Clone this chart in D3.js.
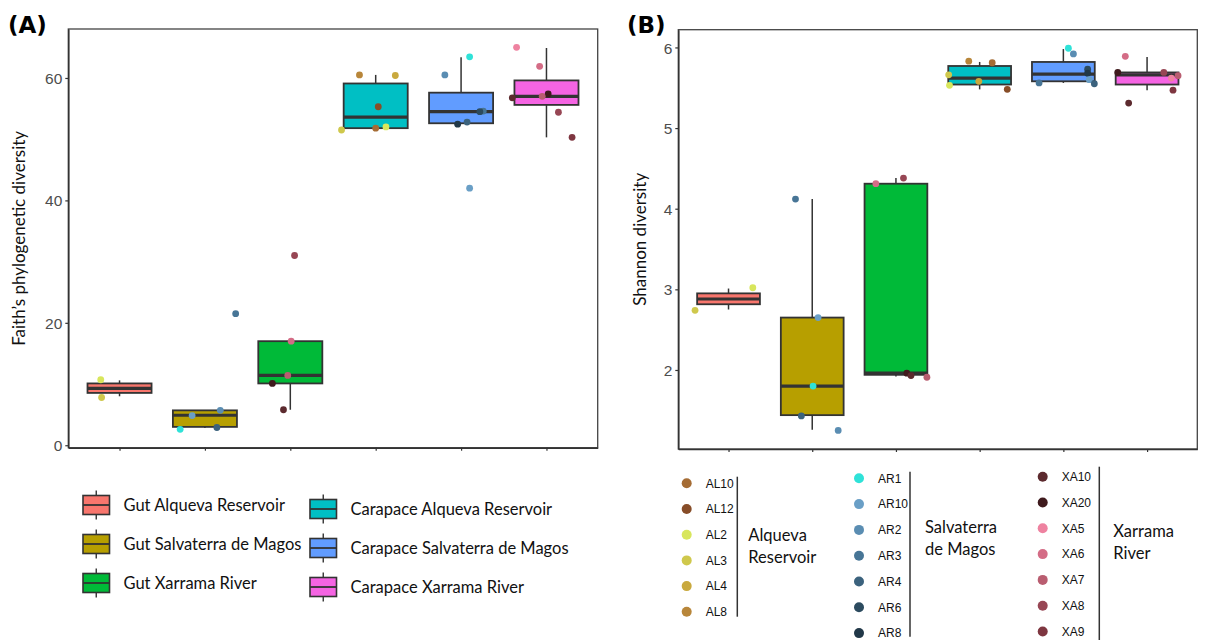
<!DOCTYPE html>
<html>
<head>
<meta charset="utf-8">
<script src="https://cdn.jsdelivr.net/npm/d3@7"></script>
<style>
  body { margin: 0; background: #fff; }
  .tick text { font-family: "Liberation Sans", Arial, sans-serif; font-size: 15.5px; fill: #4d4d4d; }
  .tick line { stroke: #333; stroke-width: 1.2px; }
  .ttl { font-family: Lato, "Open Sans", sans-serif; font-size: 17px; fill: #111; }
  .lab { font-family: "DejaVu Sans", sans-serif; font-weight: bold; font-size: 23px; fill: #000; }
  .leg { font-family: Lato, "Open Sans", sans-serif; font-size: 16.5px; fill: #111; }
  .smp { font-family: "Liberation Sans", Arial, sans-serif; font-size: 12px; fill: #111; }
</style>
</head>
<body>
<svg id="fig" width="1213" height="640"></svg>
<script>
// groups on the x axis, same order in both panels
var groups = ["Gut Alqueva Reservoir", "Gut Salvaterra de Magos", "Gut Xarrama River",
  "Carapace Alqueva Reservoir", "Carapace Salvaterra de Magos", "Carapace Xarrama River"];
var groupFill = ["#F8766D", "#B79F00", "#00BA38", "#00BFC4", "#619CFF", "#F564E3"];

// box stats: [lower whisker, q1, median, q3, upper whisker]
var faithBox = [
  [8.0, 8.55, 9.3, 10.1, 10.6],
  [2.8, 3.0, 4.9, 5.7, 5.7],
  [5.8, 10.1, 11.4, 17.0, 17.0],
  [51.8, 51.8, 53.6, 59.1, 60.5],
  [52.5, 52.6, 54.5, 57.6, 63.4],
  [50.3, 55.6, 57.0, 59.6, 64.9]
];
var shannonBox = [
  [2.75, 2.815, 2.88, 2.95, 3.01],
  [1.26, 1.44, 1.80, 2.65, 4.12],
  [1.92, 1.94, 1.96, 4.31, 4.38],
  [5.48, 5.54, 5.62, 5.77, 5.82],
  [5.56, 5.58, 5.67, 5.82, 5.98],
  [5.47, 5.54, 5.66, 5.69, 5.88]
];

// samples: [group, sample, value, jitter (fraction of a step)]
var faithPts = [
  [0, "AL2", 10.7, -0.22], [0, "AL3", 7.8, -0.21],
  [1, "AR1", 2.6, -0.29], [1, "AR10", 4.85, -0.15], [1, "AR2", 5.7, 0.18], [1, "AR4", 2.9, 0.14], [1, "AR3", 21.5, 0.36],
  [2, "XA6", 17.0, 0.01], [2, "XA7", 11.4, -0.03], [2, "XA20", 10.1, -0.21], [2, "XA10", 5.8, -0.08], [2, "XA8", 31.0, 0.05],
  [3, "AL8", 60.5, -0.19], [3, "AL4", 60.4, 0.23], [3, "AL12", 55.3, 0.03], [3, "AL10", 51.8, 0.0], [3, "AL2", 52.0, 0.12], [3, "AL3", 51.5, -0.40],
  [4, "AR1", 63.45, 0.10], [4, "AR2", 60.5, -0.19], [4, "AR3", 54.6, 0.26], [4, "AR6", 54.5, 0.22], [4, "AR4", 52.8, 0.07], [4, "AR8", 52.45, -0.04], [4, "AR10", 42.0, 0.10],
  [5, "XA5", 65.0, -0.35], [5, "XA6", 61.9, -0.08], [5, "XA20", 57.4, 0.02], [5, "XA7", 57.0, -0.05], [5, "XA10", 56.75, -0.40], [5, "XA8", 54.4, 0.14], [5, "XA9", 50.3, 0.30]
];
var shannonPts = [
  [0, "AL3", 2.74, -0.40], [0, "AL2", 3.02, 0.29],
  [1, "AR3", 4.12, -0.20], [1, "AR10", 2.65, 0.07], [1, "AR1", 1.80, 0.01], [1, "AR4", 1.43, -0.13], [1, "AR2", 1.25, 0.31],
  [2, "XA6", 4.31, -0.24], [2, "XA8", 4.38, 0.09], [2, "XA20", 1.96, 0.13], [2, "XA10", 1.93, 0.18], [2, "XA7", 1.91, 0.37],
  [3, "AL8", 5.83, -0.13], [3, "AL10", 5.81, 0.15], [3, "AL3", 5.66, -0.37], [3, "AL2", 5.53, -0.36], [3, "AL4", 5.58, -0.01], [3, "AL12", 5.48, 0.33],
  [4, "AR1", 5.99, 0.06], [4, "AR2", 5.92, 0.12], [4, "AR6", 5.73, 0.29], [4, "AR8", 5.68, 0.29], [4, "AR10", 5.60, 0.31], [4, "AR4", 5.55, 0.37], [4, "AR3", 5.56, -0.29],
  [5, "XA6", 5.89, -0.26], [5, "XA20", 5.69, -0.35], [5, "XA8", 5.69, 0.20], [5, "XA5", 5.62, 0.29], [5, "XA7", 5.65, 0.37], [5, "XA9", 5.47, 0.31], [5, "XA10", 5.31, -0.22]
];

var sites = [["Alqueva", "Reservoir"], ["Salvaterra", "de Magos"], ["Xarrama", "River"]];
var siteSamples = [
  ["AL10", "AL12", "AL2", "AL3", "AL4", "AL8"],
  ["AR1", "AR10", "AR2", "AR3", "AR4", "AR6", "AR8"],
  ["XA10", "XA20", "XA5", "XA6", "XA7", "XA8", "XA9"]
];
var siteColors = [
  ["#a56c34", "#874d28", "#d8e65c", "#cfc84c", "#c9a93e", "#b8863a"],
  ["#2fe2d8", "#6a9fc6", "#5a8db2", "#477596", "#3b627d", "#2c4b5f", "#213848"],
  ["#5c2a2e", "#3f1a1d", "#ee82a0", "#d46c86", "#b95d70", "#974654", "#7e3640"]
];

var faithTicks = [0, 20, 40, 60];
var shannonTicks = [2, 3, 4, 5, 6];

var sampleColor = {};
siteSamples.forEach(function(list, s) {
  list.forEach(function(d, i) { sampleColor[d] = siteColors[s][i]; });
});

var svg = d3.select("#fig");

function drawPanel(cfg) {
  var x = d3.scalePoint().domain(d3.range(groups.length))
    .range([cfg.left, cfg.right]).padding(0.6);
  var y = d3.scaleLinear().domain(cfg.domain).range([cfg.bottom, cfg.top]);
  var bw = x.step() * 0.75;
  var g = svg.append("g");

  g.append("rect")
    .attr("x", cfg.left).attr("y", cfg.top)
    .attr("width", cfg.right - cfg.left).attr("height", cfg.bottom - cfg.top)
    .attr("fill", "#fff").attr("stroke", "#444").attr("stroke-width", 1.3);

  var box = g.selectAll("g.box").data(cfg.box).enter().append("g").attr("class", "box");
  box.append("line")
    .attr("x1", function(d, i) { return x(i); }).attr("x2", function(d, i) { return x(i); })
    .attr("y1", function(d) { return y(d[0]); }).attr("y2", function(d) { return y(d[4]); })
    .attr("stroke", "#333").attr("stroke-width", 1.5);
  box.append("rect")
    .attr("x", function(d, i) { return x(i) - bw / 2; })
    .attr("y", function(d) { return y(d[3]); })
    .attr("width", bw)
    .attr("height", function(d) { return y(d[1]) - y(d[3]); })
    .attr("fill", function(d, i) { return groupFill[i]; })
    .attr("stroke", "#333").attr("stroke-width", 1.8);
  box.append("line")
    .attr("x1", function(d, i) { return x(i) - bw / 2; })
    .attr("x2", function(d, i) { return x(i) + bw / 2; })
    .attr("y1", function(d) { return y(d[2]); }).attr("y2", function(d) { return y(d[2]); })
    .attr("stroke", "#333").attr("stroke-width", 3.2);

  g.selectAll("circle.pt").data(cfg.pts).enter().append("circle")
    .attr("class", "pt")
    .attr("cx", function(d) { return x(d[0]) + d[3] * x.step(); })
    .attr("cy", function(d) { return y(d[2]); })
    .attr("r", 3.4)
    .attr("fill", function(d) { return sampleColor[d[1]]; });

  var ya = g.append("g").attr("transform", "translate(" + cfg.left + ",0)")
    .call(d3.axisLeft(y).tickValues(cfg.ticks).tickFormat(d3.format("d"))
      .tickSize(3).tickPadding(3).tickSizeOuter(0));
  ya.select(".domain").attr("stroke", "#333").attr("stroke-width", 1.6);
  ya.selectAll(".tick text").attr("dy", "0.36em");

  var xa = g.append("g").attr("transform", "translate(0," + cfg.bottom + ")")
    .call(d3.axisBottom(x).tickSize(3).tickFormat("").tickSizeOuter(0));
  xa.select(".domain").attr("stroke", "#333").attr("stroke-width", 1.6);

  g.append("text").attr("class", "ttl")
    .attr("transform", "translate(" + cfg.titleX + "," + (cfg.top + cfg.bottom) / 2 + ") rotate(-90)")
    .attr("text-anchor", "middle").attr("dy", "0.35em")
    .text(cfg.title);

  g.append("text").attr("class", "lab")
    .attr("x", cfg.labX).attr("y", 33).text(cfg.label);
}

drawPanel({
  left: 68.3, right: 597.7, top: 29, bottom: 447.7,
  domain: [-0.4, 68], ticks: faithTicks,
  box: faithBox, pts: faithPts,
  title: "Faith\u2019s phylogenetic diversity", titleX: 19,
  label: "(A)", labX: 8
});

drawPanel({
  left: 678.3, right: 1197.3, top: 29.7, bottom: 449,
  domain: [1.02, 6.22], ticks: shannonTicks,
  box: shannonBox, pts: shannonPts,
  title: "Shannon diversity", titleX: 640,
  label: "(B)", labX: 627
});

// group legend (box key glyphs)
var legX = [83, 310], legY = [505, 509], legDy = 39;
var keyW = 26.5, keyH = 19;
var lg = svg.append("g").selectAll("g").data(groups).enter().append("g")
  .attr("transform", function(d, i) {
    var c = Math.floor(i / 3), r = i % 3;
    return "translate(" + legX[c] + "," + (legY[c] + r * legDy) + ")";
  });
lg.append("line")
  .attr("x1", keyW / 2).attr("x2", keyW / 2).attr("y1", -14.5).attr("y2", 14.5)
  .attr("stroke", "#333").attr("stroke-width", 1.4);
lg.append("rect")
  .attr("x", 0).attr("y", -keyH / 2).attr("width", keyW).attr("height", keyH)
  .attr("fill", function(d, i) { return groupFill[i]; })
  .attr("stroke", "#333").attr("stroke-width", 1.6);
lg.append("line")
  .attr("x1", 0).attr("x2", keyW).attr("y1", 0).attr("y2", 0)
  .attr("stroke", "#333").attr("stroke-width", 1.8);
lg.append("text").attr("class", "leg")
  .attr("x", 40.5).attr("y", 5.5).text(function(d) { return d; });

// sample legend (colour dots grouped by site)
var colDot = [686.7, 859, 1042.7];
var colTop = [483.3, 478.3, 476.7];
var colDy = [25.7, 25.8, 25.8];
var barX = [737.3, 910, 1099.3];
var barY = [[476.7, 616.7], [471.7, 636.7], [466.7, 640]];
var siteLabX = [748.3, 925, 1113.3];
var siteLabY = [541, 532.7, 536.7];

siteSamples.forEach(function(list, s) {
  var col = svg.append("g");
  var item = col.selectAll("g").data(list).enter().append("g")
    .attr("transform", function(d, i) { return "translate(0," + (colTop[s] + i * colDy[s]) + ")"; });
  item.append("circle")
    .attr("cx", colDot[s]).attr("cy", 0).attr("r", 5)
    .attr("fill", function(d, i) { return siteColors[s][i]; });
  item.append("text").attr("class", "smp")
    .attr("x", colDot[s] + 19).attr("y", 4.3).text(function(d) { return d; });
  col.append("line")
    .attr("x1", barX[s]).attr("x2", barX[s]).attr("y1", barY[s][0]).attr("y2", barY[s][1])
    .attr("stroke", "#333").attr("stroke-width", 1.5);
  col.selectAll("text.site").data(sites[s]).enter().append("text")
    .attr("class", "leg site")
    .attr("x", siteLabX[s]).attr("y", function(d, i) { return siteLabY[s] + i * 22; })
    .text(function(d) { return d; });
});
</script>
</body>
</html>
